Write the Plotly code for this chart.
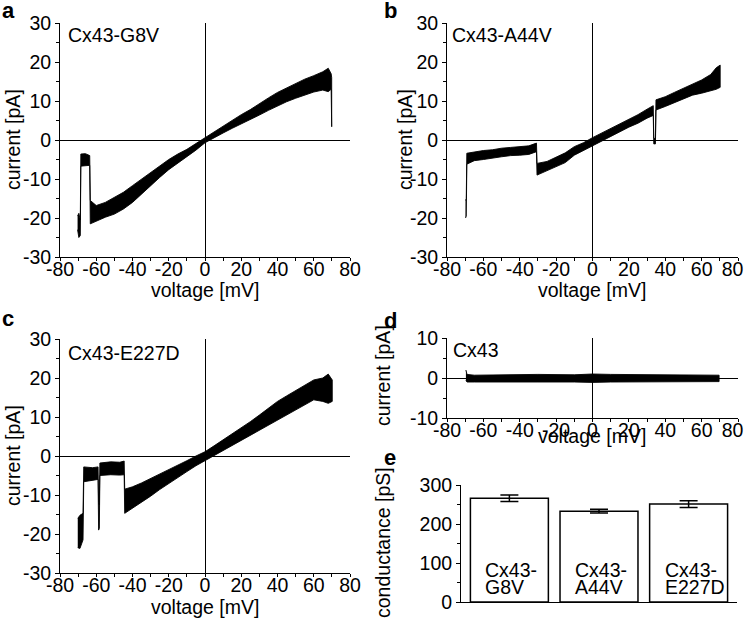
import plotly.graph_objects as go

# ---------------- data ----------------
# panel a: Cx43-G8V  (voltage mV, lower / upper envelope of current trace, pA)
a_v = [-70.3, -69.6, -68.8, -68.5, -66.0, -63.6, -63.3, -60, -55, -50, -45, -40, -35, -30, -25, -20, -15, -10, -5,
       0, 5, 10, 15, 20, 25, 30, 35, 40, 45, 50, 55, 60, 65, 68, 69.6, 69.9]
a_lo = [-23, -25, -24.5, -6.7, -6.6, -6.5, -21.5, -20.7, -19.8, -19, -17.7, -16, -13.8, -11.7, -9.6, -7.6, -6, -4.3, -2.6,
        -0.7, 0.6, 1.8, 3.0, 4.3, 5.3, 6.4, 7.6, 8.8, 9.8, 10.7, 11.6, 12.3, 12.8, 12.4, 13, 3.4]
a_hi = [-19.5, -18.8, -20.5, -3.6, -3.5, -4.0, -15.5, -16.8, -16, -14.7, -13.4, -11.7, -10, -8.3, -6.5, -5, -3.6, -2.4, -0.9,
        0.6, 2.0, 3.6, 5.0, 6.5, 7.8, 9.4, 10.8, 12.2, 13.3, 14.6, 15.6, 16.5, 17.5, 18.4, 17, 16]

# panel b: Cx43-A44V
b_v = [-69.8, -69.4, -69.1, -67, -65, -60, -55, -50, -45, -40, -35, -30.8, -30.5, -25, -20, -15, -10, -5, 0,
       5, 10, 15, 20, 25, 30, 33.4, 33.7, 34.6, 34.9, 40, 45, 50, 55, 60, 65, 68, 70.2]
b_lo = [-20, -19.5, -6.2, -5.8, -5.3, -5.0, -4.7, -4.3, -4.0, -3.9, -3.7, -3.0, -9.0, -8.0, -6.9, -5.8, -3.9, -2.8, -1.5,
        -0.2, 0.9, 2.1, 3.3, 4.3, 5.6, 6.3, -1.0, -1.0, 7.7, 8.6, 9.5, 10.5, 11.5, 12.0, 12.6, 13.0, 13.5]
b_hi = [-15.5, -15.0, -3.4, -3.2, -3.0, -2.7, -2.5, -2.1, -1.9, -1.7, -1.5, -0.8, -6.0, -5.5, -4.3, -3.3, -1.7, -0.7, 0.6,
        1.8, 2.9, 4.1, 5.2, 6.5, 7.9, 8.8, 0.5, 0.3, 10.3, 11.1, 12.2, 13.3, 14.3, 15.4, 16.8, 18.5, 19.2]

# panel c: Cx43-E227D
c_v = [-70.2, -69, -67.3, -66.9, -62, -59, -58.7, -58.3, -58.0, -52, -47, -44.6, -44.3, -40, -35, -30, -25, -20, -15,
       -10, -5, 0, 5, 10, 15, 20, 25, 30, 35, 40, 45, 50, 55, 60, 65, 68, 70.2]
c_lo = [-23.5, -23.7, -21.5, -6.6, -6.2, -6.0, -19.0, -18.5, -5.0, -4.8, -4.9, -4.8, -14.7, -13.5, -11.9, -10.3, -8.6, -7.0, -5.5,
        -4.0, -2.5, -1.0, 0.3, 1.6, 2.8, 4.1, 5.4, 6.7, 8.0, 9.3, 10.6, 11.9, 13.1, 14.4, 14.0, 13.5, 14.0]
c_hi = [-16.0, -15.2, -14.7, -2.8, -3.0, -2.8, -12.0, -12.5, -1.8, -1.5, -1.6, -1.3, -8.5, -7.9, -6.9, -5.8, -4.7, -3.6, -2.4,
        -1.2, 0.0, 1.1, 2.6, 4.1, 5.6, 7.1, 8.8, 10.5, 12.2, 14.0, 15.4, 16.7, 18.1, 19.5, 20.0, 21.0, 19.5]

# panel d: Cx43 (wild type)
d_v = [-69.6, -69.0, -65, -50, -30, -10, 0, 10, 30, 50, 65, 69.6]
d_lo = [-0.6, -1.0, -1.0, -1.1, -1.0, -1.0, -1.1, -1.0, -1.0, -1.0, -0.9, -0.9]
d_hi = [2.0, 0.9, 0.7, 0.8, 0.9, 0.8, 1.0, 0.9, 0.8, 0.8, 0.7, 0.7]

# panel e: single-channel conductance
e_cat = ["Cx43-G8V", "Cx43-A44V", "Cx43-E227D"]
e_line1 = ["Cx43-", "Cx43-", "Cx43-"]
e_line2 = ["G8V", "A44V", "E227D"]
e_val = [266, 233, 251]
e_err = [8.5, 5, 8.5]

# tick labels
v_ticks = [-80, -60, -40, -20, 0, 20, 40, 60, 80]
v_text = ["-80", "-60", "-40", "-20", "0", "20", "40", "60", "80"]
v_text_right = ["-80", "-60", "-40", "-20", "0", "20", "40", "60", "80\u00a0\u00a0"]
i_ticks = [-30, -20, -10, 0, 10, 20, 30]
i_text = ["-30", "-20", "-10", "0", "10", "20", "30"]
d_ticks = [-10, 0, 10]
d_text = ["-10", "0", "10"]
g_ticks = [0, 100, 200, 300]
g_text = ["0", "100", "200", "300"]

# ---------------- figure ----------------
W, H = 745, 620
FONT = "Liberation Sans, Arial, Helvetica, sans-serif"
FS = 19.5


def px(x):
    return x / W


def py(y):
    return 1 - y / H


fig = go.Figure()


def band(v, lo, hi, xa, ya):
    xs = list(v) + list(v)[::-1]
    ys = list(hi) + list(lo)[::-1]
    fig.add_trace(go.Scatter(x=xs, y=ys, mode="lines", fill="toself",
                             fillcolor="black", line=dict(color="black", width=0.9),
                             xaxis=xa, yaxis=ya, hoverinfo="skip", showlegend=False))


band(a_v, a_lo, a_hi, "x", "y")
band(b_v, b_lo, b_hi, "x2", "y2")
band(c_v, c_lo, c_hi, "x3", "y3")
band(d_v, d_lo, d_hi, "x4", "y4")

fig.add_trace(go.Bar(x=[0, 1, 2], y=e_val, width=0.87, xaxis="x5", yaxis="y5",
                     marker=dict(color="white", line=dict(color="black", width=1.5)),
                     error_y=dict(type="data", array=e_err, color="black", thickness=1.5, width=9),
                     hoverinfo="skip", showlegend=False))

tickfont = dict(family=FONT, size=FS, color="black")


def vaxis(dom, tt):
    return dict(domain=dom, range=[-80, 80], tickmode="array", tickvals=v_ticks, ticktext=tt,
                ticks="outside", ticklen=3, tickwidth=1, tickcolor="black", ticklabelstandoff=-8,
                ticklabeloverflow="allow",
                minor=dict(tickvals=[-70, -50, -30, -10, 10, 30, 50, 70], ticks="outside", ticklen=3, tickcolor="black"),
                showline=True, linecolor="black", linewidth=1, showgrid=False, automargin=False,
                zeroline=True, zerolinecolor="black", zerolinewidth=1, tickfont=tickfont, fixedrange=True)


def iaxis(dom, anchor, rng, tv, tt, mv):
    return dict(domain=dom, anchor=anchor, range=rng, tickmode="array", tickvals=tv, ticktext=tt,
                ticks="outside", ticklen=4, tickwidth=1, tickcolor="black", ticklabelstandoff=0,
                ticklabeloverflow="allow",
                minor=dict(tickvals=mv, ticks="outside", ticklen=3, tickcolor="black"),
                showline=True, linecolor="black", linewidth=1, showgrid=False, automargin=False,
                zeroline=True, zerolinecolor="black", zerolinewidth=1, tickfont=tickfont, fixedrange=True)


mi = [-25, -15, -5, 5, 15, 25]
fig.update_layout(
    width=W, height=H, margin=dict(l=0, r=0, t=0, b=0, pad=0, autoexpand=False),
    paper_bgcolor="white", plot_bgcolor="white", showlegend=False,
    font=dict(family=FONT, size=FS, color="black"),
    xaxis=dict(vaxis([px(60), px(350)], v_text), anchor="y"),
    yaxis=iaxis([py(257), py(23)], "x", [-30, 30], i_ticks, i_text, mi),
    xaxis2=dict(vaxis([px(447), px(738)], v_text_right), anchor="y2"),
    yaxis2=iaxis([py(257), py(23)], "x2", [-30, 30], i_ticks, i_text, mi),
    xaxis3=dict(vaxis([px(60), px(350)], v_text), anchor="y3"),
    yaxis3=iaxis([py(573), py(339)], "x3", [-30, 30], i_ticks, i_text, mi),
    xaxis4=dict(vaxis([px(447), px(738)], v_text_right), anchor="y4"),
    yaxis4=iaxis([py(418), py(338)], "x4", [-10, 10], d_ticks, d_text, [-5, 5]),
    xaxis5=dict(domain=[px(461), px(737)], anchor="y5", range=[-0.54, 2.54], showticklabels=False,
                ticks="", showline=True, linecolor="black", linewidth=1, showgrid=False, zeroline=False,
                automargin=False, fixedrange=True),
    yaxis5=dict(domain=[py(602), py(485)], anchor="x5", range=[0, 300], tickmode="array",
                tickvals=g_ticks, ticktext=g_text, ticks="outside", ticklen=4, tickcolor="black",
                ticklabelstandoff=0,
                minor=dict(tickvals=[50, 150, 250], ticks="outside", ticklen=3, tickcolor="black"),
                showline=True, linecolor="black", linewidth=1, showgrid=False, zeroline=False,
                automargin=False, tickfont=tickfont, fixedrange=True),
)

ann = []


def text(x, y, s, size=FS, angle=0, xanchor="center", yanchor="middle", bold=False):
    ann.append(dict(x=px(x), y=py(y), xref="paper", yref="paper", text=("<b>%s</b>" % s) if bold else s,
                    showarrow=False, textangle=angle, xanchor=xanchor, yanchor=yanchor,
                    font=dict(family=FONT, size=size, color="black")))


# panel letters
text(0, 11, "a", 22, xanchor="left", bold=True)
text(382, 11, "b", 22, xanchor="left", bold=True)
text(0, 318, "c", 22, xanchor="left", bold=True)
text(382, 320, "d", 22, xanchor="left", bold=True)
text(382, 457, "e", 22, xanchor="left", bold=True)

# axis titles
for (xc, yc) in [(13, 140), (405, 140), (13, 456), (383, 376)]:
    text(xc, yc, "current [pA]", angle=-90)
for (xc, yc) in [(205, 290), (592, 290), (205, 607), (592, 436)]:
    text(xc, yc, "voltage [mV]")
text(383, 543, "conductance [pS]", angle=-90)

# construct labels
text(66, 35, "Cx43-G8V", xanchor="left")
text(450, 35, "Cx43-A44V", xanchor="left")
text(66, 353, "Cx43-E227D", xanchor="left")
text(451, 350, "Cx43", xanchor="left")

# labels inside bars
for i in range(3):
    ann.append(dict(x=i - 0.29, y=81, xref="x5", yref="y5", text=e_line1[i], showarrow=False,
                    xanchor="left", yanchor="middle", font=dict(family=FONT, size=FS, color="black")))
    ann.append(dict(x=i - 0.29, y=38, xref="x5", yref="y5", text=e_line2[i], showarrow=False,
                    xanchor="left", yanchor="middle", font=dict(family=FONT, size=FS, color="black")))

fig.update_layout(annotations=ann)
fig.write_html("out.html", config={"displayModeBar": False},
               post_script="document.body.style.margin='0';document.body.style.padding='0';")
